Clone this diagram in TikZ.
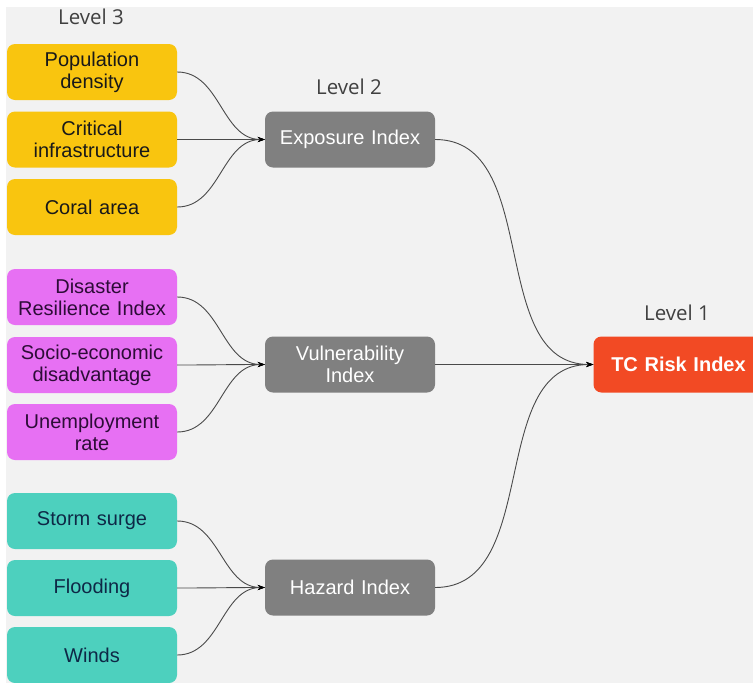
\documentclass[tikz,border=0pt]{standalone}
\usepackage{fontspec}
\setmainfont{Liberation Sans}
\newfontfamily\lvlfont{Open Sans}
\usetikzlibrary{arrows.meta}
\definecolor{bgc}{HTML}{F2F2F2}
\definecolor{yel}{HTML}{F9C50F}
\definecolor{mag}{HTML}{E770F3}
\definecolor{teal2}{HTML}{4DD0BE}
\definecolor{gry}{HTML}{808080}
\definecolor{redc}{HTML}{F24A24}
\definecolor{edgec}{HTML}{4A4A4A}
\definecolor{lvlc}{HTML}{404040}
\tikzset{
  box/.style={rounded corners=8pt, minimum width=170pt, minimum height=56pt, inner sep=2pt,
    align=center, font=\fontsize{20}{22}\selectfont, text width=166pt},
  ybox/.style={box, fill=yel, text=black!90},
  mbox/.style={box, fill=mag, text={rgb,255:red,45;green,12;blue,55}},
  tbox/.style={box, fill=teal2, text={rgb,255:red,14;green,40;blue,70}},
  gbox/.style={box, fill=gry, text=white},
  rbox/.style={box, fill=redc, text=white, font=\fontsize{20}{22}\selectfont\bfseries},
  lvl/.style={font=\lvlfont\fontsize{20.5}{22}\selectfont, text=lvlc},
  conn/.style={draw=edgec, line width=0.9pt, -{Stealth[length=7pt,width=5pt,black]}, out=0, in=180}
}
\begin{document}
\begin{tikzpicture}[x=1pt,y=-1pt]
\useasboundingbox (0,0) rectangle (753,683);
\fill[white] (0,0) rectangle (753,683);
\fill[bgc] (6,7) rectangle (753,683);
% level labels
\node[lvl] (l3) at (91,17) {Level 3};
\node[lvl] (l2) at (349,87) {Level 2};
\node[lvl] (l1) at (677,313) {Level 1};
% level 3
\node[ybox] (pd) at (92,72) {Population\\density};
\node[ybox] (ci) at (92,139.5) {Critical\\infrastructure};
\node[ybox] (ca) at (92,207) {Coral area};
\node[mbox] (dr) at (92,297) {Disaster\\Resilience Index};
\node[mbox] (se) at (92,365) {Socio-economic\\disadvantage};
\node[mbox] (ur) at (92,432) {Unemployment\\rate};
\node[tbox] (ss) at (92,521) {Storm surge};
\node[tbox] (fl) at (92,588) {Flooding};
\node[tbox] (wi) at (92,655) {Winds};
% level 2
\node[gbox] (ex) at (350,139.5) {Exposure Index};
\node[gbox] (vu) at (350,364.5) {Vulnerability\\Index};
\node[gbox] (hz) at (350,587.5) {Hazard Index};
% level 1
\node[rbox] (tc) at (678.5,364.5) {TC Risk Index};
% connectors
\foreach \s in {pd,ci,ca} \draw[conn] (\s.east) to (ex.west);
\foreach \s in {dr,se,ur} \draw[conn] (\s.east) to (vu.west);
\foreach \s in {ss,fl,wi} \draw[conn] (\s.east) to (hz.west);
\foreach \s in {ex,vu,hz} \draw[conn] (\s.east) to (tc.west);
\end{tikzpicture}
\end{document}
